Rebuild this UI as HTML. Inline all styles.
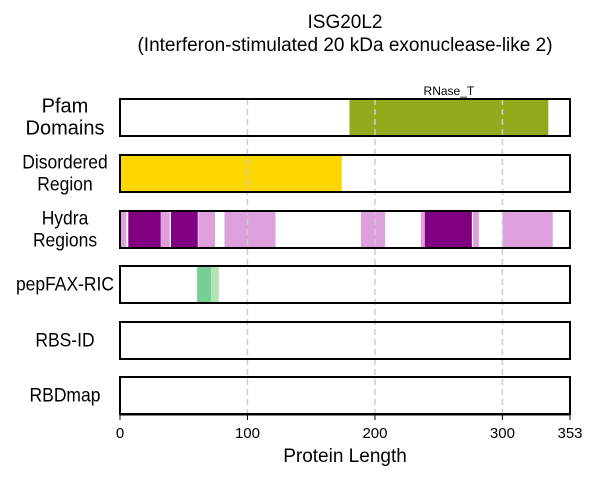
<!DOCTYPE html>
<html><head><meta charset="utf-8"><style>
body{margin:0;background:#fff}
svg text{font-family:"Liberation Sans",Arial,sans-serif}
</style></head><body>
<svg id="c" width="600" height="480"></svg>
<script>
const maxLen = 353;
const tickVals = [0,100,200,300,353];
const trackNames = ["Pfam","Disordered","Hydra","pepFAX","RBS","RBD"];
const pfamStart = [180]; const pfamEnd = [336]; const pfamLabel = ["RNase_T"];
const disStart = [0]; const disEnd = [174];
const hydraStart = [0,6.5,32,40,61.5,82,189,236,239,277,300];
const hydraEnd =   [5,32,39,61,74.5,122,208,238.7,276,281.5,339.5];
const hydraStrong = [0,1,0,1,0,0,0,0,1,0,0];
const pepStart = [60.5,71.5]; const pepEnd = [71.5,77.5];
const pepColor = ["#74d095","#b0e4b0"];

const NS="http://www.w3.org/2000/svg", svg=document.getElementById('c');
const x0=120,x1=570; const X=v=>x0+(x1-x0)*v/maxLen;
const rowsY=[99,155,211,266,322,377], rowH=37;
function mk(t,a,txt){const e=document.createElementNS(NS,t);for(const k in a)e.setAttribute(k,a[k]);if(txt!==undefined)e.textContent=txt;svg.appendChild(e);return e;}
function rect(s,e,r,fill,name){const el=mk('rect',{x:X(s),y:rowsY[r],width:X(e)-X(s),height:rowH,fill:fill});

}
let t=mk('text',{x:345,y:28,'text-anchor':'middle','font-size':19},'ISG20L2');


t=mk('text',{x:345,y:51,'text-anchor':'middle','font-size':19},'(Interferon-stimulated 20 kDa exonuclease-like 2)');


pfamStart.forEach((s,i)=>{rect(s,pfamEnd[i],0,'#94aa1e','pfam-domain');
const l=mk('text',{x:(X(s)+X(pfamEnd[i]))/2,y:95,'text-anchor':'middle','font-size':12},pfamLabel[i]);

});
disStart.forEach((s,i)=>rect(s,disEnd[i],1,'#ffd700','disordered-region'));
hydraStart.forEach((s,i)=>rect(s,hydraEnd[i],2,hydraStrong[i]?'#800080':'#dda0dd','hydra-region'));
pepStart.forEach((s,i)=>rect(s,pepEnd[i],3,pepColor[i],'pepfax-region'));
tickVals.slice(1,4).forEach(v=>{const g=mk('line',{x1:X(v),x2:X(v),y1:99,y2:414,stroke:'#ccc','stroke-width':1.5,'stroke-dasharray':'6,4'});

});
const labels=[["Pfam","Domains"],["Disordered","Region"],["Hydra","Regions"],["pepFAX-RIC"],["RBS-ID"],["RBDmap"]];
rowsY.forEach((y,r)=>{const f=mk('rect',{x:x0,y:y,width:x1-x0,height:rowH,fill:'none',stroke:'#000','stroke-width':2});


const L=labels[r], cy=y+rowH/2;
L.forEach((s,j)=>{const ty=cy+6+(L.length==2?(j?11:-11):0);
const e=mk('text',{x:65,y:ty,'text-anchor':'middle','font-size':r==0?20:17.5},s);
if(r>0){e.setAttribute('transform','translate(65,0) scale(0.92,1) translate(-65,0)');e.setAttribute('font-size',19);}

});});
const ax=mk('line',{x1:x0,x2:x1,y1:415,y2:415,stroke:'#000','stroke-width':1});


tickVals.forEach(v=>{const tk=mk('line',{x1:X(v),x2:X(v),y1:415,y2:420,stroke:'#000'});


const tl=mk('text',{x:X(v),y:438,'text-anchor':'middle','font-size':15},String(v));

});
t=mk('text',{x:345,y:462,'text-anchor':'middle','font-size':19},'Protein Length');


</script>
</body></html>
